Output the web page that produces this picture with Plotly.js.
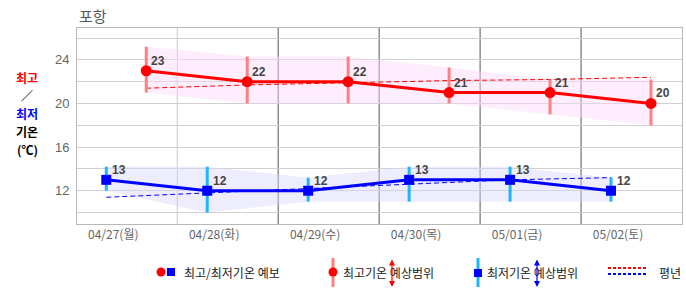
<!DOCTYPE html>
<html>
<head>
<meta charset="utf-8">
<script src="https://cdn.plot.ly/plotly-3.0.1.min.js"></script>
<style>html,body{margin:0;padding:0;background:#fff;}#chart{width:686px;height:295px;}</style>
</head>
<body>
<div id="chart"></div>
<script>
// ---- data ----
const dates = ['04/27(월)', '04/28(화)', '04/29(수)', '04/30(목)', '05/01(금)', '05/02(토)'];
const highTemp = [23, 22, 22, 21, 21, 20];
const highRangeTop = [25.2, 24.3, 24.3, 23.3, 22.2, 22.2];
const highRangeBottom = [21.0, 20.0, 20.0, 20.0, 19.0, 18.0];
const highNormal = [21.4, 21.7, 21.9, 22.1, 22.2, 22.4];
const lowTemp = [13, 12, 12, 13, 13, 12];
const lowRangeTop = [14.2, 14.2, 13.2, 14.2, 14.2, 13.2];
const lowRangeBottom = [12.0, 10.0, 11.0, 11.0, 11.0, 11.0];
const lowNormal = [11.4, 11.8, 12.2, 12.6, 13.0, 13.2];
const yTickVals = [10, 12, 14, 16, 18, 20, 22, 24, 26];
const yTickText = ['', '12', '', '16', '', '20', '', '24', ''];

// ---- positions (day units) ----
const LOW_OFF = 0, HIGH_OFF = 0.396, LABEL_OFF = 0.069, GRID_OFF = 0.703;
const idx = dates.map((_, i) => i);
const xLow = idx.map(i => i + LOW_OFF);
const xHigh = idx.map(i => i + HIGH_OFF);
const xLabel = idx.map(i => i + LABEL_OFF);
const xGrid = idx.slice(0, 5).map(i => i + GRID_OFF);

const FONT = 'Liberation Sans, Noto Sans CJK KR, sans-serif';
const KFONT = 'Noto Sans CJK KR, sans-serif';
const RED = '#ff0000', BLUE = '#0000ff';

const traces = [
  // high band
  {x: xHigh, y: highRangeTop, mode: 'lines', line: {width: 0, color: 'rgba(0,0,0,0)'}, hoverinfo: 'skip', showlegend: false},
  {x: xHigh, y: highRangeBottom, mode: 'lines', line: {width: 0, color: 'rgba(0,0,0,0)'}, fill: 'tonexty', fillcolor: 'rgba(250,215,250,0.45)', hoverinfo: 'skip', showlegend: false},
  // low band
  {x: xLow, y: lowRangeTop, mode: 'lines', line: {width: 0, color: 'rgba(0,0,0,0)'}, hoverinfo: 'skip', showlegend: false},
  {x: xLow, y: lowRangeBottom, mode: 'lines', line: {width: 0, color: 'rgba(0,0,0,0)'}, fill: 'tonexty', fillcolor: 'rgba(215,215,250,0.45)', hoverinfo: 'skip', showlegend: false},
  // normals
  {x: xHigh, y: highNormal, mode: 'lines', line: {width: 1, color: RED, dash: '5px,3px'}, showlegend: false},
  {x: xLow, y: lowNormal, mode: 'lines', line: {width: 1, color: BLUE, dash: '5px,3px'}, showlegend: false},
  // ranges as error bars
  {x: xHigh, y: highTemp, mode: 'markers', marker: {size: 1, opacity: 0}, showlegend: false,
   error_y: {type: 'data', symmetric: false, array: highTemp.map((v, i) => highRangeTop[i] - v), arrayminus: highTemp.map((v, i) => v - highRangeBottom[i]), width: 0, thickness: 3, color: '#ff8080'}},
  {x: xLow, y: lowTemp, mode: 'markers', marker: {size: 1, opacity: 0}, showlegend: false,
   error_y: {type: 'data', symmetric: false, array: lowTemp.map((v, i) => lowRangeTop[i] - v), arrayminus: lowTemp.map((v, i) => v - lowRangeBottom[i]), width: 0, thickness: 3, color: '#1eb4ff'}},
  // main lines
  {x: xHigh, y: highTemp, mode: 'lines+markers', line: {width: 3, color: RED}, marker: {symbol: 'circle', size: 11, color: RED}, showlegend: false},
  {x: xLow, y: lowTemp, mode: 'lines+markers', line: {width: 3, color: BLUE}, marker: {symbol: 'square', size: 10, color: BLUE}, showlegend: false}
];

const M = {l: 77, r: 4, t: 28, b: 71};
const PW = 686 - M.l - M.r, PH = 295 - M.t - M.b;
const px = x => (x - M.l) / PW;
const py = y => (295 - M.b - y) / PH;

const shapes = xGrid.map((g, i) => ({type: 'line', xref: 'x', yref: 'paper', x0: g, x1: g, y0: 0, y1: 1,
  line: {color: i === 0 ? '#c8c8c8' : '#555555', width: 1}, layer: 'below'}));

// legend graphics
shapes.push({type: 'circle', xref: 'paper', yref: 'paper', x0: px(156.5), x1: px(165.5), y0: py(276.5), y1: py(267.5), fillcolor: RED, line: {width: 0}});
shapes.push({type: 'rect', xref: 'paper', yref: 'paper', x0: px(167), x1: px(175), y0: py(276), y1: py(268), fillcolor: BLUE, line: {width: 0}});
shapes.push({type: 'rect', xref: 'paper', yref: 'paper', x0: px(331.5), x1: px(334.5), y0: py(287), y1: py(258), fillcolor: '#ff8080', line: {width: 0}});
shapes.push({type: 'circle', xref: 'paper', yref: 'paper', x0: px(328.5), x1: px(337.5), y0: py(276.5), y1: py(267.5), fillcolor: RED, line: {width: 0}});
shapes.push({type: 'rect', xref: 'paper', yref: 'paper', x0: px(476.5), x1: px(479.5), y0: py(287), y1: py(258), fillcolor: '#1eb4ff', line: {width: 0}});
shapes.push({type: 'rect', xref: 'paper', yref: 'paper', x0: px(474), x1: px(482), y0: py(277), y1: py(269), fillcolor: BLUE, line: {width: 0}});
shapes.push({type: 'line', xref: 'paper', yref: 'paper', x0: px(608), x1: px(648), y0: py(268), y1: py(268), line: {color: RED, width: 2, dash: '3px,2px'}});
shapes.push({type: 'line', xref: 'paper', yref: 'paper', x0: px(608), x1: px(648), y0: py(274), y1: py(274), line: {color: BLUE, width: 2, dash: '3px,2px'}});

const annotations = [
  {xref: 'paper', yref: 'paper', x: 0, y: py(16), xanchor: 'left', yanchor: 'middle', showarrow: false,
   text: '포항', font: {family: KFONT, size: 15, color: '#555'}},
  {xref: 'paper', yref: 'paper', x: px(162), y: py(272), xanchor: 'left', yanchor: 'middle', showarrow: false, xshift: 20,
   text: '최고/최저기온 예보', font: {family: KFONT, size: 12, color: '#222'}},
  {xref: 'paper', yref: 'paper', x: px(341), y: py(272), xanchor: 'left', yanchor: 'middle', showarrow: false,
   text: '최고기온 예상범위', font: {family: KFONT, size: 12, color: '#222'}},
  {xref: 'paper', yref: 'paper', x: px(485), y: py(272), xanchor: 'left', yanchor: 'middle', showarrow: false,
   text: '최저기온 예상범위', font: {family: KFONT, size: 12, color: '#222'}},
  {xref: 'paper', yref: 'paper', x: px(657), y: py(272), xanchor: 'left', yanchor: 'middle', showarrow: false,
   text: '평년', font: {family: KFONT, size: 12, color: '#222'}},
  {xref: 'paper', yref: 'paper', x: px(392), y: py(287), ax: 0, ay: -29, text: '', showarrow: true, arrowside: 'end+start',
   arrowhead: 2, arrowsize: 1, arrowwidth: 1.2, arrowcolor: RED},
  {xref: 'paper', yref: 'paper', x: px(537), y: py(287), ax: 0, ay: -29, text: '', showarrow: true, arrowside: 'end+start',
   arrowhead: 2, arrowsize: 1, arrowwidth: 1.2, arrowcolor: BLUE}
];

// y-axis title, stacked lines
const yTitle = [['최고', '#ff0000', 77, 'bold'], ['／', '#000', 95, 'normal'], ['최저', '#0000ff', 113, 'bold'], ['기온', '#000', 131, 'bold'], ['(℃)', '#000', 149, 'bold']];
yTitle.forEach(([t, c, y, w]) => annotations.push({xref: 'paper', yref: 'paper', x: px(27), y: py(y), xanchor: 'center', yanchor: 'middle',
  showarrow: false, text: t, font: {family: KFONT, size: 12, color: c, weight: w}}));

// value labels
highTemp.forEach((v, i) => annotations.push({x: xHigh[i], y: v, xref: 'x', yref: 'y', text: String(v), showarrow: false,
  xanchor: 'left', yanchor: 'middle', xshift: 3, yshift: 10, font: {family: FONT, size: 12, color: '#444', weight: 'bold'}}));
lowTemp.forEach((v, i) => annotations.push({x: xLow[i], y: v, xref: 'x', yref: 'y', text: String(v), showarrow: false,
  xanchor: 'left', yanchor: 'middle', xshift: 4, yshift: 10, font: {family: FONT, size: 12, color: '#444', weight: 'bold'}}));

const layout = {
  width: 686, height: 295, margin: M,
  paper_bgcolor: '#fff', plot_bgcolor: '#fff',
  font: {family: FONT, size: 12, color: '#666'},
  showlegend: false,
  xaxis: {range: [-0.29, 5.703], tickmode: 'array', tickvals: xLabel, ticktext: dates, showgrid: false, zeroline: false,
    showline: true, mirror: true, linecolor: '#b8b8b8', linewidth: 1, ticks: '', tickfont: {family: KFONT, size: 12, color: '#666'}, fixedrange: true},
  yaxis: {range: [8.95, 26.92], tickmode: 'array', tickvals: yTickVals, ticktext: yTickText, showgrid: true, gridcolor: '#d0d0d0', gridwidth: 1,
    zeroline: false, showline: true, mirror: true, linecolor: '#b8b8b8', linewidth: 1, ticks: '', ticklabelstandoff: 4,
    tickfont: {family: FONT, size: 13, color: '#666'}, fixedrange: true},
  shapes: shapes,
  annotations: annotations
};

Plotly.newPlot('chart', traces, layout, {displayModeBar: false, staticPlot: true});
</script>
</body>
</html>
